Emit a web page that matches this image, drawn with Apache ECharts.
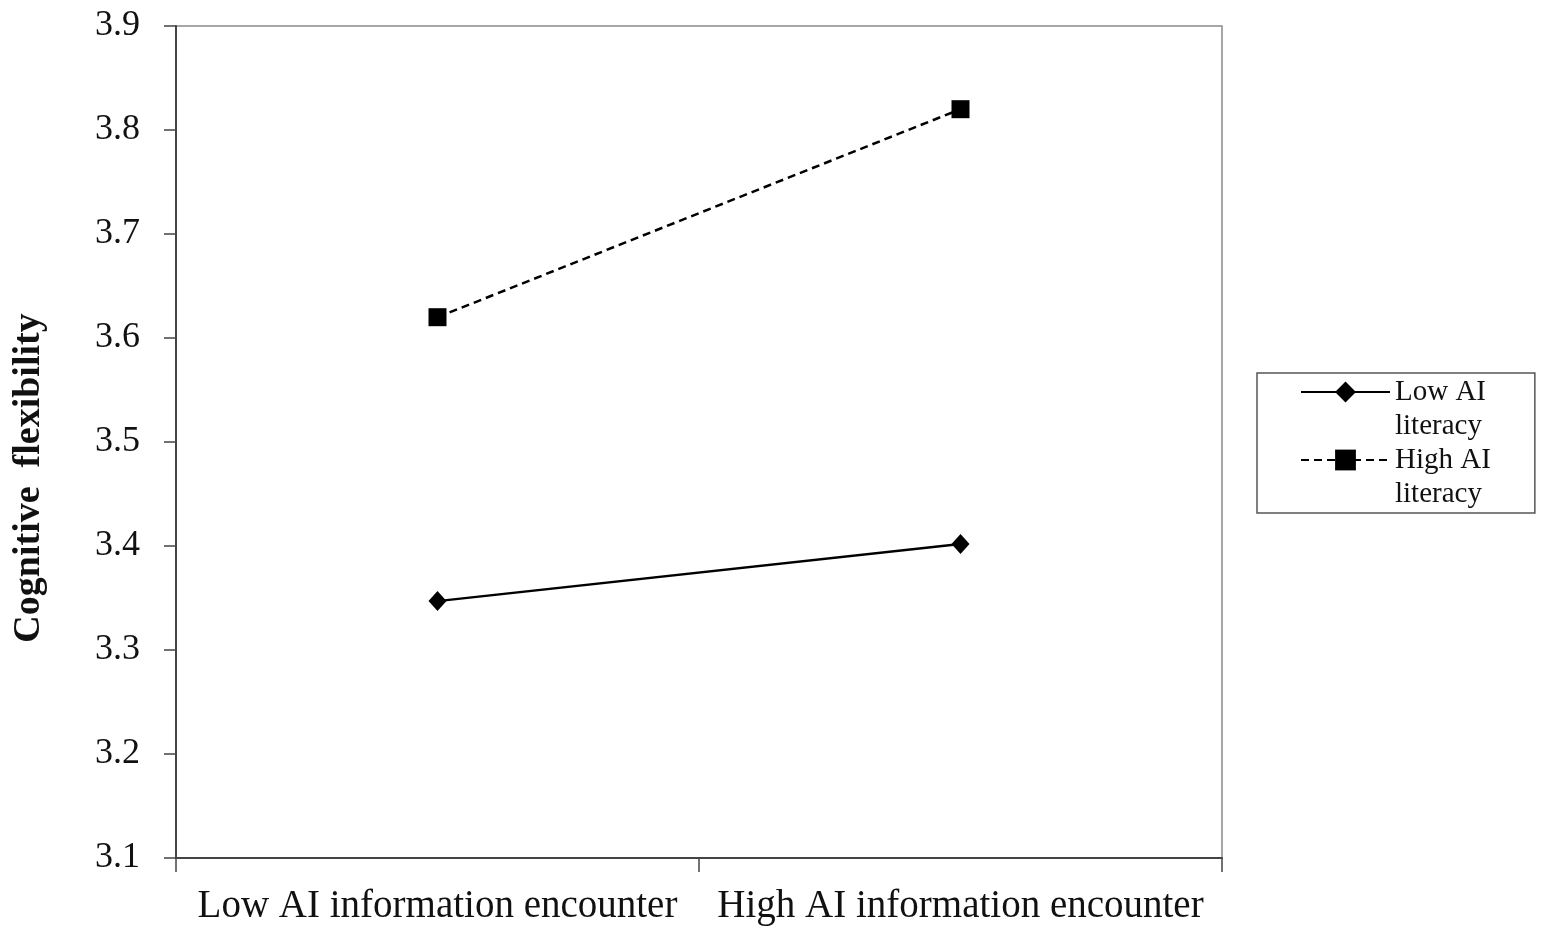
<!DOCTYPE html>
<html>
<head>
<meta charset="utf-8">
<script src="https://cdn.jsdelivr.net/npm/echarts@6/dist/echarts.min.js"></script>
<style>
  html, body { margin: 0; padding: 0; background: #fff; }
  #chart { width: 1547px; height: 933px; }
</style>
</head>
<body>
<div id="chart"></div>
<script>
// categories on the x axis
var categories = ['Low AI information encounter', 'High AI information encounter'];
// cognitive flexibility per group
var lowLiteracy = [3.347, 3.402];
var highLiteracy = [3.62, 3.82];
var seriesNames = ['Low AI literacy', 'High AI literacy'];
// legend text, wrapped the way the figure wraps it
var legendLabels = {
  'Low AI literacy': 'Low AI\nliteracy',
  'High AI literacy': 'High AI\nliteracy'
};
// y axis range
var yMin = 3.1, yMax = 3.9, yStep = 0.1;

var serif = 'Liberation Serif';
var chart = echarts.init(document.getElementById('chart'));

var option = {
  backgroundColor: '#fff',
  animation: false,
  grid: {
    left: 176, top: 26, right: 325, bottom: 75,
    show: true, borderColor: '#8a8a8a', borderWidth: 1.5
  },
  legend: {
    orient: 'vertical',
    left: 1257, top: 373,
    // negative top padding: the blank first text line sits above the box
    padding: [-32, 44, 2, 43],
    itemGap: -34,
    itemWidth: 89,
    itemHeight: 26,
    borderColor: '#555',
    borderWidth: 1.5,
    textStyle: {
      fontFamily: serif, fontSize: 29, color: '#111', lineHeight: 34
    },
    // blank first line so the icon lines up with the first text line
    formatter: function (name) { return ' \n' + legendLabels[name]; },
    data: seriesNames
  },
  xAxis: {
    type: 'category',
    data: categories,
    boundaryGap: true,
    axisLine: { lineStyle: { color: '#444', width: 2 } },
    axisTick: { show: true, interval: 0, length: 14, lineStyle: { color: '#444', width: 1.5 } },
    axisLabel: {
      interval: 0, hideOverlap: false,
      fontFamily: serif, fontSize: 39, color: '#111', margin: 29
    }
  },
  yAxis: {
    type: 'value',
    min: yMin, max: yMax, interval: yStep,
    name: 'Cognitive  flexibility',
    nameLocation: 'middle',
    nameGap: 128,
    nameTextStyle: {
      fontFamily: serif, fontSize: 38, fontWeight: 'bold', color: '#111',
      padding: [0, 72, 0, 0]
    },
    splitLine: { show: false },
    axisLine: { show: true, lineStyle: { color: '#444', width: 2 } },
    axisTick: { show: true, length: 12, lineStyle: { color: '#444', width: 1.5 } },
    axisLabel: {
      fontFamily: serif, fontSize: 36, color: '#111', margin: 36,
      formatter: function (v) { return v.toFixed(1); }
    }
  },
  series: [
    {
      name: seriesNames[0],
      type: 'line',
      data: lowLiteracy,
      symbol: 'diamond',
      symbolSize: [18, 20],
      itemStyle: { color: '#000' },
      lineStyle: { color: '#000', width: 2.5, type: 'solid' }
    },
    {
      name: seriesNames[1],
      type: 'line',
      data: highLiteracy,
      symbol: 'rect',
      symbolSize: 18,
      itemStyle: { color: '#000' },
      lineStyle: { color: '#000', width: 2.5, type: [8, 5] }
    }
  ]
};

chart.setOption(option);
</script>
</body>
</html>
